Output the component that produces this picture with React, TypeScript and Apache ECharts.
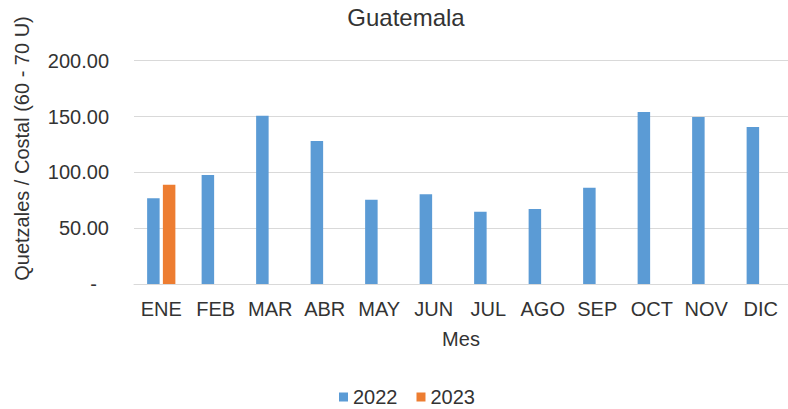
import React, { useEffect, useRef } from "react";
import * as echarts from "echarts";

const months = ["ENE", "FEB", "MAR", "ABR", "MAY", "JUN", "JUL", "AGO", "SEP", "OCT", "NOV", "DIC"];
const values2022 = [76.8, 97.7, 150.8, 128.1, 75.5, 80.4, 64.8, 67.2, 86.3, 154.1, 149.6, 140.7];
const values2023: (number | null)[] = [89.0, null, null, null, null, null, null, null, null, null, null, null];
const seriesNames = ["2022", "2023"];
const titleText = "Guatemala";
const yAxisTitle = "Quetzales / Costal (60 - 70 U)";
const xAxisTitle = "Mes";

const FONT = '"Liberation Sans", Arial, sans-serif';
const TEXT = "#333333";

export default function App() {
  const ref = useRef<HTMLDivElement>(null);
  useEffect(() => {
    if (!ref.current) return;
    const chart = echarts.init(ref.current, null, { renderer: "svg" });
    chart.setOption({
      animation: false,
      backgroundColor: "#ffffff",
      textStyle: { fontFamily: FONT },
      title: {
        text: titleText,
        left: 401,
        top: 0,
        textAlign: "center",
        textStyle: { fontFamily: FONT, fontSize: 24, fontWeight: "normal", color: TEXT },
      },
      legend: {
        data: seriesNames,
        left: 334,
        top: 382,
        icon: "rect",
        itemWidth: 9,
        itemHeight: 9,
        itemGap: 19,
        textStyle: { fontFamily: FONT, fontSize: 20, color: TEXT },
      },
      grid: { left: 134, top: 60.7, width: 663, height: 223.3, containLabel: false },
      xAxis: {
        type: "category",
        data: months,
        name: xAxisTitle,
        nameLocation: "middle",
        nameGap: 45,
        nameTextStyle: { fontFamily: FONT, fontSize: 20, color: TEXT },
        axisLine: { show: true, lineStyle: { color: "#D9D9D9", width: 1 } },
        axisTick: { show: false },
        axisLabel: { margin: 15, fontFamily: FONT, fontSize: 20, color: TEXT, interval: 0 },
      },
      yAxis: {
        type: "value",
        min: 0,
        max: 200,
        interval: 50,
        axisLine: { show: false },
        axisTick: { show: false },
        splitLine: { lineStyle: { color: "#D9D9D9", width: 1 } },
        axisLabel: {
          margin: 25,
          fontFamily: FONT,
          fontSize: 20,
          color: TEXT,
          formatter: (v: number) => (v === 0 ? "{d|-}" : v.toFixed(2)),
          rich: { d: { fontFamily: FONT, fontSize: 20, color: TEXT, padding: [0, 12, 0, 0] } },
        },
      },
      graphic: [
        {
          type: "text",
          x: 22,
          y: 148.5,
          rotation: Math.PI / 2,
          style: {
            text: yAxisTitle,
            font: `20px ${FONT}`,
            fill: TEXT,
            align: "center",
            verticalAlign: "middle",
          },
        },
      ],
      series: [
        {
          name: seriesNames[0],
          type: "bar",
          data: values2022,
          barWidth: 12.5,
          barGap: "26%",
          itemStyle: { color: "#5B9BD5" },
        },
        {
          name: seriesNames[1],
          type: "bar",
          data: values2023,
          barWidth: 12.5,
          barGap: "26%",
          itemStyle: { color: "#ED7D31" },
        },
      ],
    });
    return () => chart.dispose();
  }, []);
  return (
    <div
      ref={ref}
      style={{ position: "fixed", left: 0, top: 0, width: 788, height: 409, background: "#fff" }}
    />
  );
}
